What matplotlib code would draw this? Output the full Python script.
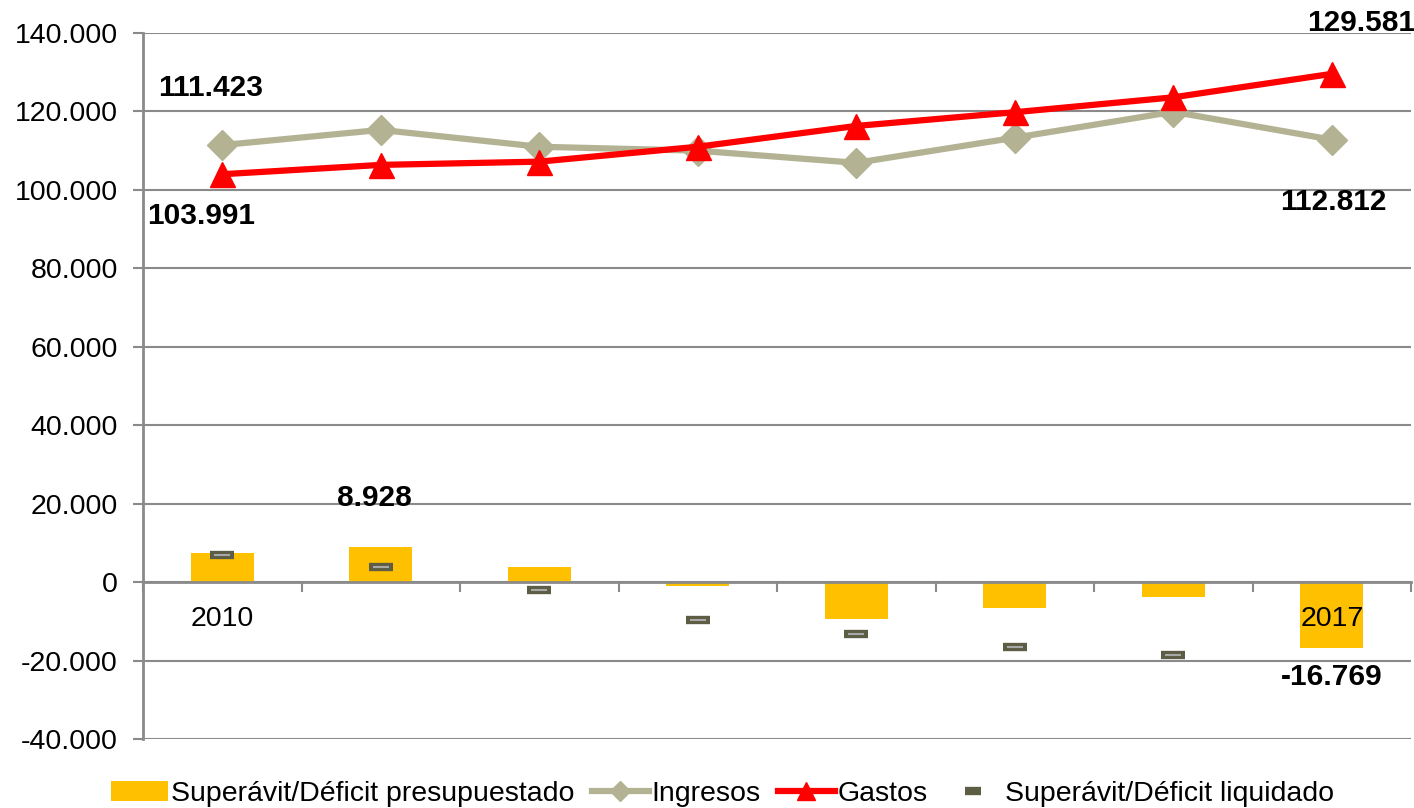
import numpy as np
import matplotlib.pyplot as plt
from matplotlib.ticker import FuncFormatter, FixedLocator

plt.rcParams['font.family'] = ['Liberation Sans', 'DejaVu Sans']

# datos (miles de euros)
anios = ['2010', '2011', '2012', '2013', '2014', '2015', '2016', '2017']
ingresos = [111423, 115300, 111000, 110000, 106900, 113300, 119900, 112812]
gastos = [103991, 106372, 107200, 111000, 116300, 119800, 123600, 129581]
presupuestado = [7432, 8928, 3800, -1000, -9400, -6500, -3700, -16769]
liquidado = [6900, 3900, -1950, -9700, -13350, -16600, -18700, np.nan]
etiquetas_x = ['2010', '', '', '', '', '', '', '2017']

gris = '#8a8a8a'

fig = plt.figure(figsize=(14.14, 8.08), dpi=100)
ax = fig.add_axes([143 / 1414, 1 - 739 / 808, 1268 / 1414, 706 / 808])

x = np.arange(len(anios))

ax.bar(x, presupuestado, width=0.4, color='#FFC000', zorder=2,
       label='Superávit/Déficit presupuestado')
ax.plot(x, ingresos, color='#B3B394', lw=4.5, marker='D', markersize=15,
        zorder=4, label='Ingresos')
ax.plot(x, gastos, color='#FF0000', lw=4.5, marker='^', markersize=18,
        zorder=5, label='Gastos')
ax.plot(x, liquidado, ls='none', marker='_', markersize=17, mew=6,
        color='#5d5d45', zorder=6, label='Superávit/Déficit liquidado')
ax.plot(x, liquidado, ls='none', marker='_', markersize=12, mew=1.5,
        color='#a8a8a8', zorder=7)

# etiquetas de datos
bold = dict(fontsize=21.5, fontweight='bold', ha='center', va='center',
            textcoords='offset pixels', zorder=8)
ax.annotate('111.423', (x[0], ingresos[0]), xytext=(-12, 57), **bold)
ax.annotate('103.991', (x[0], gastos[0]), xytext=(-21, -42), **bold)
ax.annotate('8.928', (x[1], presupuestado[1]), xytext=(-6, 49), **bold)
ax.annotate('129.581', (x[7], gastos[7]), xytext=(29, 51), **bold)
ax.annotate('112.812', (x[7], ingresos[7]), xytext=(2, -62), **bold)
ax.annotate('-16.769', (x[7], presupuestado[7]), xytext=(0, -29), **bold)

ax.set_xlim(-0.5, 7.5)
ax.set_ylim(-40000, 140000)
ax.set_yticks(np.arange(-40000, 140001, 20000))
ax.yaxis.set_major_formatter(FuncFormatter(lambda v, p: f'{int(v):,}'.replace(',', '.')))
ax.grid(axis='y', color=gris, lw=1.5)
ax.yaxis.set_zorder(0.5)

ax.xaxis.set_major_locator(FixedLocator(np.arange(-0.5, 8, 1)))
ax.xaxis.set_major_formatter(FuncFormatter(lambda v, p: ''))
ax.xaxis.set_minor_locator(FixedLocator(x))
ax.set_xticklabels(etiquetas_x, minor=True)
ax.xaxis.set_zorder(3)
ax.tick_params(axis='x', which='major', direction='out', length=7, width=1.5, color=gris)
ax.tick_params(axis='x', which='minor', length=0, pad=17, labelsize=20.5)
ax.tick_params(axis='y', direction='out', length=7, width=1.5, color=gris,
               labelsize=20.5, pad=11)

ax.spines['bottom'].set_position(('data', 0))
ax.spines['bottom'].set_zorder(3)
for s in ['top', 'right']:
    ax.spines[s].set_visible(False)
for s in ['left', 'bottom']:
    ax.spines[s].set_color(gris)
    ax.spines[s].set_linewidth(2)

handles, labels = ax.get_legend_handles_labels()
orden = [labels.index(l) for l in ['Superávit/Déficit presupuestado', 'Ingresos',
                                   'Gastos', 'Superávit/Déficit liquidado']]
fig.legend([handles[i] for i in orden], [labels[i] for i in orden],
           loc='lower center', bbox_to_anchor=(0.511, -0.03), ncol=4,
           frameon=False, fontsize=20.5, handlelength=2.0, handletextpad=0.1,
           columnspacing=0.6, markerscale=0.7)

fig.savefig('out.png', dpi=100)
